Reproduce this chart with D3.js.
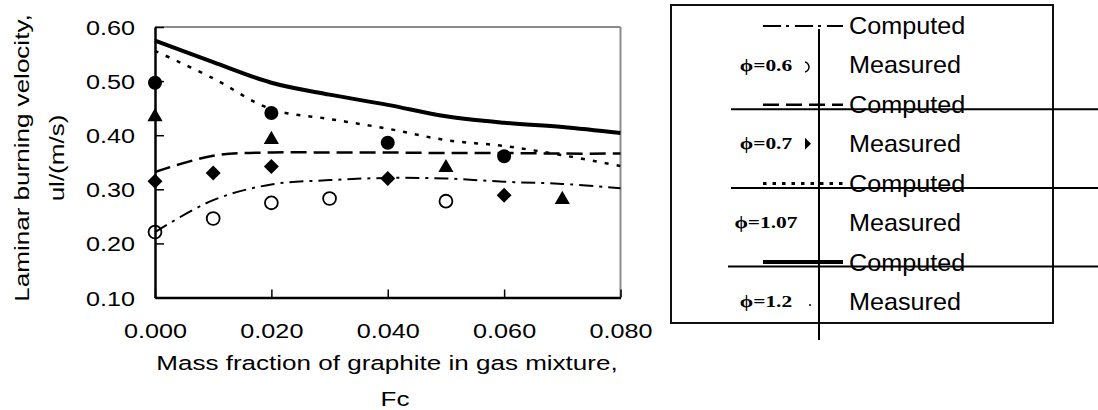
<!DOCTYPE html>
<html>
<head>
<meta charset="utf-8">
<script src="https://cdn.jsdelivr.net/npm/d3@7"></script>
<style>
  html, body { margin: 0; padding: 0; background: #fff; }
  svg { display: block; }
</style>
</head>
<body>
<svg id="chart" width="1098" height="410"></svg>
<script>
// Graphite mass fraction grid of the computed curves
const fcGrid = [0, 0.01, 0.02, 0.03, 0.04, 0.05, 0.06, 0.07, 0.08];

// Computed laminar burning velocity, m/s
const computedPhi06  = [0.221, 0.280, 0.309, 0.317, 0.321, 0.320, 0.314, 0.310, 0.302];
const computedPhi07  = [0.332, 0.362, 0.368, 0.368, 0.368, 0.367, 0.367, 0.366, 0.366];
const computedPhi107 = [0.556, 0.505, 0.448, 0.430, 0.412, 0.391, 0.380, 0.363, 0.343];
const computedPhi12  = [0.575, 0.535, 0.497, 0.475, 0.456, 0.435, 0.423, 0.415, 0.404];

// Measured laminar burning velocity, m/s
const measuredFcPhi06  = [0, 0.01, 0.02, 0.03, 0.05];
const measuredPhi06    = [0.221, 0.246, 0.275, 0.283, 0.278];
const measuredFcPhi07  = [0, 0.01, 0.02, 0.04, 0.06];
const measuredPhi07    = [0.315, 0.330, 0.342, 0.320, 0.289];
const measuredFcPhi107 = [0, 0.02, 0.05, 0.07];
const measuredPhi107   = [0.434, 0.392, 0.340, 0.281];
const measuredFcPhi12  = [0, 0.02, 0.04, 0.06];
const measuredPhi12    = [0.497, 0.441, 0.386, 0.361];

const xTicks = [0, 0.02, 0.04, 0.06, 0.08];
const yTicks = [0.1, 0.2, 0.3, 0.4, 0.5, 0.6];
const phiLabels = ["\u03d5=0.6", "\u03d5=0.7", "\u03d5=1.07", "\u03d5=1.2"];
const legendKinds = ["Computed", "Measured"];
const xTitleLines = ["Mass fraction of graphite in gas mixture,", "Fc"];
const yTitleLines = ["Laminar burning velocity,", "ul/(m/s)"];

// ---- styles per equivalence ratio (same order as phiLabels) ----
const SANS = "'Liberation Sans', Arial, Helvetica, sans-serif";
const SERIF = "'Liberation Serif', 'Times New Roman', serif";
const lineStyle = [
  { width: 2,   dash: "14,6,3,6", legendDash: "18,5,3,6", legendWidth: 2 },
  { width: 2.5, dash: "16,7",     legendDash: "16,7",     legendWidth: 2.5 },
  { width: 2.5, dash: "4,8",      legendDash: "3.5,6",    legendWidth: 3 },
  { width: 4,   dash: null,       legendDash: null,       legendWidth: 4 }
];
const markerStyle = [
  { type: d3.symbolCircle,   size: 130, fill: "none", stroke: "#000", sw: 1.8, rot: 0 },
  { type: d3.symbolSquare,   size: 112, fill: "#000", stroke: "none", sw: 0,   rot: 45 },
  { type: d3.symbolTriangle, size: 100, fill: "#000", stroke: "none", sw: 0,   rot: 0 },
  { type: d3.symbolCircle,   size: 154, fill: "#000", stroke: "none", sw: 0,   rot: 0 }
];

const computed = [computedPhi06, computedPhi07, computedPhi107, computedPhi12]
  .map(vals => vals.map((v, i) => ({ fc: fcGrid[i], v })));
const measured = [
  [measuredFcPhi06, measuredPhi06],
  [measuredFcPhi07, measuredPhi07],
  [measuredFcPhi107, measuredPhi107],
  [measuredFcPhi12, measuredPhi12]
].map(([fc, vals]) => vals.map((v, i) => ({ fc: fc[i], v })));

const svg = d3.select("#chart");
const plot = { left: 155, right: 620.5, top: 27, bottom: 297.5 };

const x = d3.scaleLinear().domain([0, 0.08]).range([plot.left, plot.right]);
const y = d3.scaleLinear().domain([0.1, 0.6]).range([plot.bottom, plot.top]);

// plot frame: grey top/right, black axes
svg.append("line").attr("x1", plot.left).attr("x2", plot.right)
  .attr("y1", plot.top).attr("y2", plot.top)
  .attr("stroke", "#8c8c8c").attr("stroke-width", 2);
svg.append("line").attr("x1", plot.right).attr("x2", plot.right)
  .attr("y1", plot.top).attr("y2", plot.bottom)
  .attr("stroke", "#8c8c8c").attr("stroke-width", 2);

const tickSX = 1.2;

const gx = svg.append("g")
  .attr("transform", `translate(0,${plot.bottom})`)
  .call(d3.axisBottom(x).tickValues(xTicks).tickFormat(d3.format(".3f"))
    .tickSizeInner(-8).tickSizeOuter(0));
gx.select(".domain").attr("stroke", "#000").attr("stroke-width", 2.5);
gx.selectAll(".tick line").attr("stroke", "#000").attr("stroke-width", 1.5);
gx.selectAll(".tick text")
  .attr("y", 0).attr("dy", null)
  .attr("transform", `translate(0,40) scale(${tickSX},1)`)
  .style("font-size", "21px").style("font-family", SANS)
  .attr("fill", "#000");

const gy = svg.append("g")
  .attr("transform", `translate(${plot.left},0)`)
  .call(d3.axisLeft(y).tickValues(yTicks).tickFormat(d3.format(".2f"))
    .tickSizeInner(-9).tickSizeOuter(0));
gy.select(".domain").attr("stroke", "#000").attr("stroke-width", 2.5);
gy.selectAll(".tick line").attr("stroke", "#000").attr("stroke-width", 1.5);
gy.selectAll(".tick text")
  .attr("x", 0).attr("dy", "0.36em")
  .attr("transform", `translate(-20,0) scale(${tickSX},1)`)
  .style("font-size", "21px").style("font-family", SANS)
  .attr("fill", "#000");

// axis titles
const titleSX = 1.27;
const title = (tf, str) => svg.append("text")
  .attr("text-anchor", "middle")
  .style("font-size", "20.5px").style("font-family", SANS)
  .attr("transform", tf).text(str);
title(`translate(387,370) scale(${titleSX},1)`, xTitleLines[0]);
title(`translate(395,406) scale(${titleSX},1)`, xTitleLines[1]);
title(`translate(28.5,158) rotate(-90) scale(${titleSX},1)`, yTitleLines[0]);
title(`translate(63.5,158) rotate(-90) scale(${titleSX},1)`, yTitleLines[1]);

// computed curves
const line = d3.line().x(d => x(d.fc)).y(d => y(d.v)).curve(d3.curveCatmullRom);
svg.append("g").selectAll("path").data(computed).join("path")
  .attr("d", line)
  .attr("fill", "none").attr("stroke", "#000")
  .attr("stroke-width", (d, i) => lineStyle[i].width)
  .attr("stroke-dasharray", (d, i) => lineStyle[i].dash);

// measured points
const symbolPath = (i) => d3.symbol().type(markerStyle[i].type).size(markerStyle[i].size)();
measured.forEach((pts, i) => {
  const m = markerStyle[i];
  svg.append("g").selectAll("path").data(pts).join("path")
    .attr("d", symbolPath(i))
    .attr("transform", d => `translate(${x(d.fc)},${y(d.v)}) rotate(${m.rot})`)
    .attr("fill", m.fill).attr("stroke", m.stroke).attr("stroke-width", m.sw);
});

// ---- legend ----
const lg = svg.append("g");
lg.append("rect").attr("x", 671).attr("y", 5).attr("width", 382).attr("height", 318)
  .attr("fill", "none").attr("stroke", "#111").attr("stroke-width", 2);

const rowY = i => 26 + 78.7 * i;
const measuredOffset = 39;

// separators crossing the legend
[1, 2, 3].forEach(i => {
  lg.append("line").attr("x1", i === 3 ? 728 : 731).attr("x2", 1098)
    .attr("y1", rowY(i) + 4.5).attr("y2", rowY(i) + 4.5)
    .attr("stroke", "#000").attr("stroke-width", 2);
});
lg.append("line").attr("x1", 819).attr("x2", 819).attr("y1", 29).attr("y2", 340)
  .attr("stroke", "#000").attr("stroke-width", 2);

phiLabels.forEach((lab, i) => {
  const ls = lineStyle[i];
  lg.append("line").attr("x1", 763).attr("x2", 843)
    .attr("y1", rowY(i)).attr("y2", rowY(i))
    .attr("stroke", "#000").attr("stroke-width", ls.legendWidth)
    .attr("stroke-dasharray", ls.legendDash);
  lg.append("text").style("font-size", "24px").style("font-family", SANS).attr("dy", "0.35em")
    .attr("transform", `translate(849,${rowY(i)}) scale(1.05,1)`).text(legendKinds[0]);
  lg.append("text").style("font-size", "24px").style("font-family", SANS).attr("dy", "0.35em")
    .attr("transform", `translate(849,${rowY(i) + measuredOffset}) scale(1.05,1)`).text(legendKinds[1]);
  lg.append("text").style("font-size", "16.5px").style("font-weight", "bold")
    .style("font-family", SERIF)
    .attr("text-anchor", "middle").attr("dy", "0.35em")
    .attr("transform", `translate(766,${rowY(i) + measuredOffset}) scale(1.3,1)`).text(lab);
});

// legend markers, clipped by the narrow column next to the divider
svg.append("defs").append("clipPath").attr("id", "markerCol")
  .append("rect").attr("x", 805).attr("y", 0).attr("width", 13).attr("height", 410);
const markerOffsets = [{ dx: 804, dy: 2 }, { dx: 802, dy: 0 }, { dx: 780, dy: 0 }, { dx: 810, dy: 4 }];
const lm = lg.append("g").attr("clip-path", "url(#markerCol)");
phiLabels.forEach((lab, i) => {
  const m = markerStyle[i];
  const o = markerOffsets[i];
  const size = i === 3 ? 3 : (i === 1 ? 162 : 80);
  lm.append("path")
    .attr("d", d3.symbol().type(m.type).size(size)())
    .attr("transform", `translate(${o.dx},${rowY(i) + measuredOffset + o.dy}) rotate(${m.rot})`)
    .attr("fill", m.fill).attr("stroke", m.stroke).attr("stroke-width", m.sw ? 1.5 : 0);
});
</script>
</body>
</html>
